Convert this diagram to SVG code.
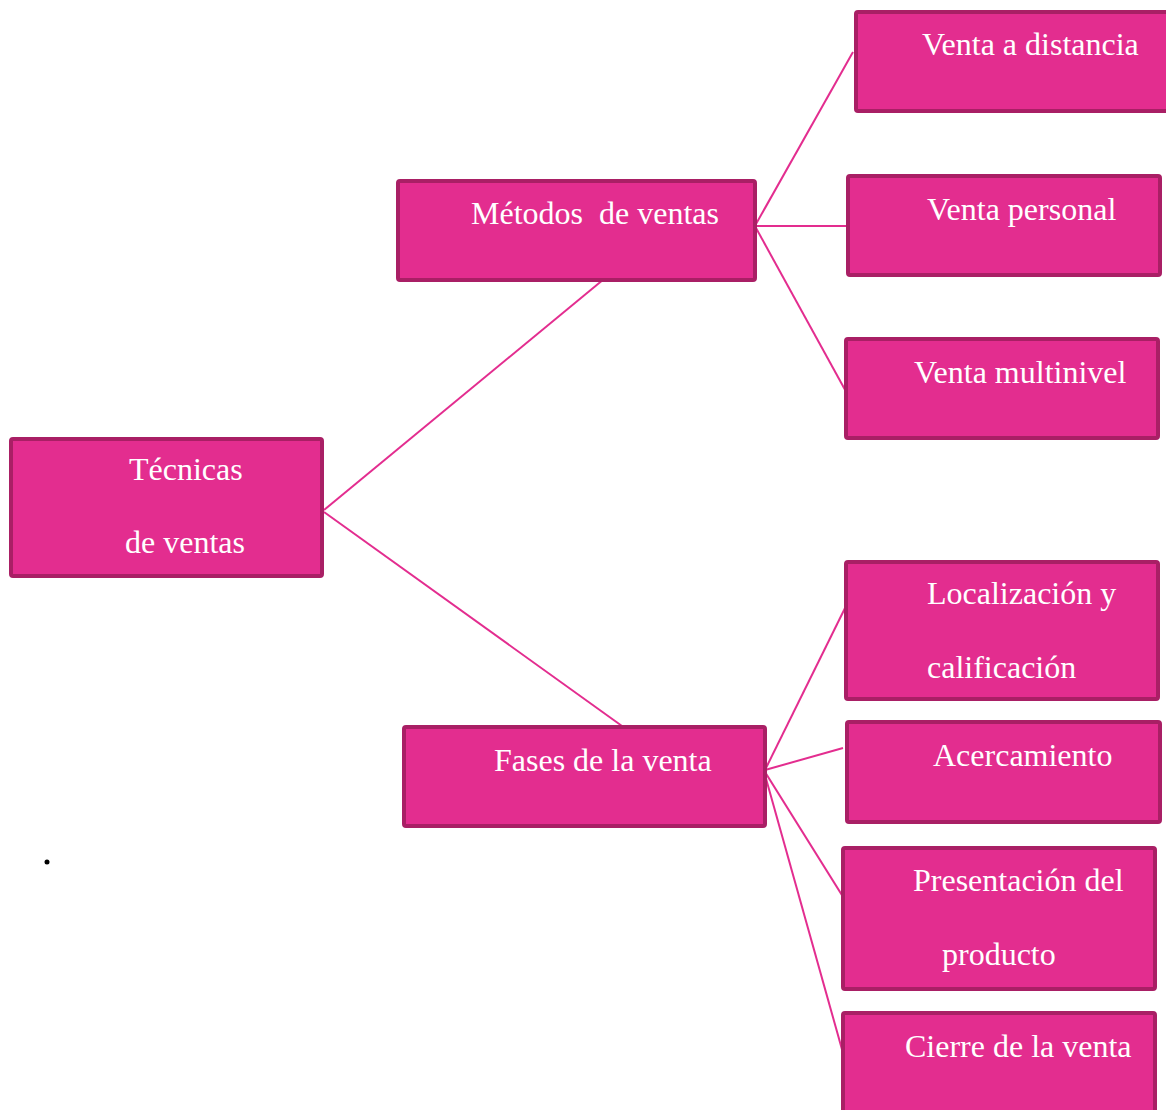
<svg xmlns="http://www.w3.org/2000/svg" width="1166" height="1110" viewBox="0 0 1166 1110">
<style>
.box{fill:#E32D8F;stroke:#A91F65;stroke-width:4}
.t{font-family:"Liberation Serif","Times New Roman",serif;font-size:32px;fill:#FFFFFF}
.c{stroke:#E32D8F;stroke-width:2;fill:none}
</style>
<rect width="1166" height="1110" fill="#FFFFFF"/>
<g id="connectors">
<line class="c" x1="324" y1="510" x2="604" y2="279"/>
<line class="c" x1="324" y1="512" x2="622" y2="726"/>
<line class="c" x1="756" y1="224" x2="853" y2="52"/>
<line class="c" x1="756" y1="226" x2="848" y2="226"/>
<line class="c" x1="756" y1="228" x2="849" y2="397"/>
<line class="c" x1="765" y1="770" x2="849" y2="600"/>
<line class="c" x1="765" y1="770" x2="843" y2="748"/>
<line class="c" x1="765" y1="772" x2="845" y2="900"/>
<line class="c" x1="765" y1="775" x2="843" y2="1053"/>
</g>
<g id="tecnicas"><rect class="box" x="11" y="439" width="311" height="137" rx="2"/><text class="t" x="129" y="480">Técnicas</text><text class="t" x="125" y="553">de ventas</text></g>
<g id="metodos"><rect class="box" x="398" y="181" width="357" height="99" rx="2"/><text class="t" x="471" y="224" xml:space="preserve">Métodos  de ventas</text></g>
<g id="fases"><rect class="box" x="404" y="727" width="361" height="99" rx="2"/><text class="t" x="494" y="771">Fases de la venta</text></g>
<g id="distancia"><rect class="box" x="856" y="12" width="312" height="99" rx="2"/><text class="t" x="922" y="55">Venta a distancia</text></g>
<g id="personal"><rect class="box" x="848" y="176" width="312" height="99" rx="2"/><text class="t" x="927" y="220">Venta personal</text></g>
<g id="multinivel"><rect class="box" x="846" y="339" width="312" height="99" rx="2"/><text class="t" x="914" y="383">Venta multinivel</text></g>
<g id="localizacion"><rect class="box" x="846" y="562" width="312" height="137" rx="2"/><text class="t" x="927" y="604">Localización y</text><text class="t" x="927" y="678">calificación</text></g>
<g id="acercamiento"><rect class="box" x="847" y="722" width="313" height="100" rx="2"/><text class="t" x="933" y="766">Acercamiento</text></g>
<g id="presentacion"><rect class="box" x="843" y="848" width="312" height="141" rx="2"/><text class="t" x="913" y="891">Presentación del</text><text class="t" x="942" y="965">producto</text></g>
<g id="cierre"><rect class="box" x="843" y="1013" width="312" height="110" rx="2"/><text class="t" x="905" y="1057">Cierre de la venta</text></g>
<circle cx="47" cy="862" r="2.5" fill="#000000"/>
</svg>
